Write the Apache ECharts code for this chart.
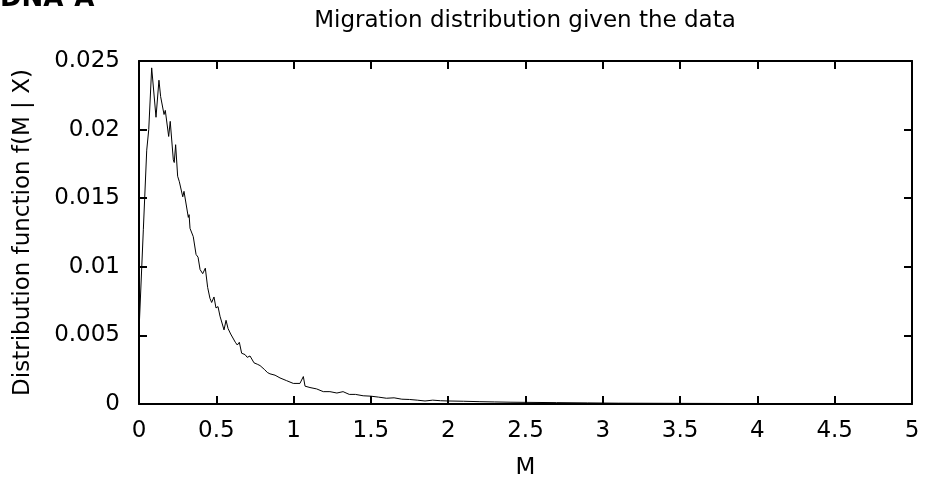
<!DOCTYPE html>
<html>
<head>
<meta charset="utf-8">
<title>Migration distribution</title>
<script src="https://cdn.jsdelivr.net/npm/echarts@6/dist/echarts.min.js"></script>
<style>
  html, body { margin: 0; padding: 0; background: #fff; }
  #main { width: 927px; height: 486px; }
</style>
</head>
<body>
<div id="main"></div>
<script>
// values
var mValues = [
    0, 0.028, 0.050, 0.063, 0.082, 0.110, 0.129, 0.140, 0.147, 0.162,
    0.170, 0.192, 0.202, 0.222, 0.228, 0.237, 0.250, 0.261, 0.270, 0.283,
    0.291, 0.319, 0.324, 0.330, 0.351, 0.369, 0.382, 0.395, 0.412, 0.429,
    0.444, 0.459, 0.470, 0.485, 0.498, 0.511, 0.524, 0.535, 0.550, 0.563,
    0.576, 0.593, 0.623, 0.636, 0.649, 0.664, 0.686, 0.700, 0.718, 0.744,
    0.765, 0.783, 0.813, 0.830, 0.847, 0.880, 0.912, 0.955, 0.998, 1.041,
    1.052, 1.063, 1.074, 1.106, 1.149, 1.192, 1.235, 1.28, 1.32, 1.36,
    1.40, 1.45, 1.50, 1.55, 1.60, 1.65, 1.70, 1.75, 1.80, 1.85,
    1.90, 1.95, 2.00, 2.10, 2.20, 2.30, 2.40, 2.50, 2.70, 2.90,
    3.10, 3.40, 3.70, 4.00, 4.30, 4.70, 5.00
];
var fValues = [
    0.0053, 0.0127, 0.0185, 0.0200, 0.0245, 0.0209, 0.0236, 0.0224, 0.0223, 0.0211,
    0.0214, 0.0195, 0.0206, 0.0178, 0.0176, 0.0189, 0.0166, 0.0162, 0.0161, 0.0151,
    0.0155, 0.0136, 0.0138, 0.0128, 0.0122, 0.0109, 0.0107, 0.0098, 0.0095, 0.0099,
    0.0085, 0.0077, 0.0074, 0.0078, 0.0070, 0.0071, 0.0064, 0.0065, 0.0054, 0.0061,
    0.0055, 0.0051, 0.0045, 0.0043, 0.0045, 0.0037, 0.0036, 0.0034, 0.0035, 0.0030,
    0.0029, 0.0028, 0.0025, 0.0023, 0.0022, 0.0021, 0.0019, 0.0017, 0.0015, 0.0015,
    0.0014, 0.0020, 0.0013, 0.0012, 0.0011, 0.0009, 0.0009, 0.0008, 0.0009, 0.0007,
    0.0007, 0.0006, 0.00057, 0.0005, 0.00042, 0.00045, 0.00035, 0.00033, 0.00028, 0.00022,
    0.00028, 0.00024, 0.00022, 0.00020, 0.00017, 0.00015, 0.00013, 0.00012, 0.0001, 0.00008,
    0.00006, 0.00005, 0.00004, 0.00003, 0.00002, 0.00002, 0.00001
];

var xMin = 0, xMax = 5, xStep = 0.5;
var yMin = 0, yMax = 0.025, yStep = 0.005;

var curve = [];
for (var i = 0; i < mValues.length; i++) {
    curve.push([mValues[i], fValues[i]]);
}

var fontFamily = 'DejaVu Sans';
var fontSize = 23;

function frameAxis(pos, isX, showLabels) {
    var ax = {
        type: 'value',
        position: pos,
        min: isX ? xMin : yMin,
        max: isX ? xMax : yMax,
        interval: isX ? xStep : yStep,
        axisLine: { show: true, onZero: false, lineStyle: { color: '#000', width: 2 } },
        axisTick: { show: true, inside: true, length: 8, lineStyle: { color: '#000', width: 2 } },
        splitLine: { show: false },
        axisLabel: {
            show: showLabels,
            color: '#000',
            fontFamily: fontFamily,
            fontSize: fontSize,
            margin: isX ? 16 : 19
        }
    };
    return ax;
}

var xBottom = frameAxis('bottom', true, true);
xBottom.name = 'M';
xBottom.nameLocation = 'middle';
xBottom.nameGap = 53;
xBottom.nameTextStyle = { color: '#000', fontFamily: fontFamily, fontSize: fontSize };

var yLeft = frameAxis('left', false, true);
yLeft.name = 'Distribution function f(M | X)';
yLeft.nameLocation = 'middle';
yLeft.nameGap = 104;
yLeft.nameTextStyle = { color: '#000', fontFamily: fontFamily, fontSize: fontSize };

var myChart = echarts.init(document.getElementById('main'), null, { renderer: 'canvas' });

var option = {
    backgroundColor: '#fff',
    animation: false,
    title: {
        text: 'Migration distribution given the data',
        left: 525,
        top: 10,
        padding: 0,
        textAlign: 'center',
        textStyle: { color: '#000', fontFamily: fontFamily, fontSize: fontSize, fontWeight: 'normal' }
    },
    graphic: [{
        type: 'text',
        x: 0,
        y: -1,
        style: {
            text: 'DNA-A',
            fill: '#000',
            font: 'bold 26px "DejaVu Sans"',
            verticalAlign: 'middle'
        }
    }],
    grid: { left: 139, right: 15, top: 61, bottom: 82 },
    xAxis: [xBottom, frameAxis('top', true, false)],
    yAxis: [yLeft, frameAxis('right', false, false)],
    series: [{
        type: 'line',
        data: curve,
        showSymbol: false,
        symbol: 'none',
        lineStyle: { color: '#000', width: 1 },
        silent: true
    }]
};

myChart.setOption(option);
</script>
</body>
</html>
